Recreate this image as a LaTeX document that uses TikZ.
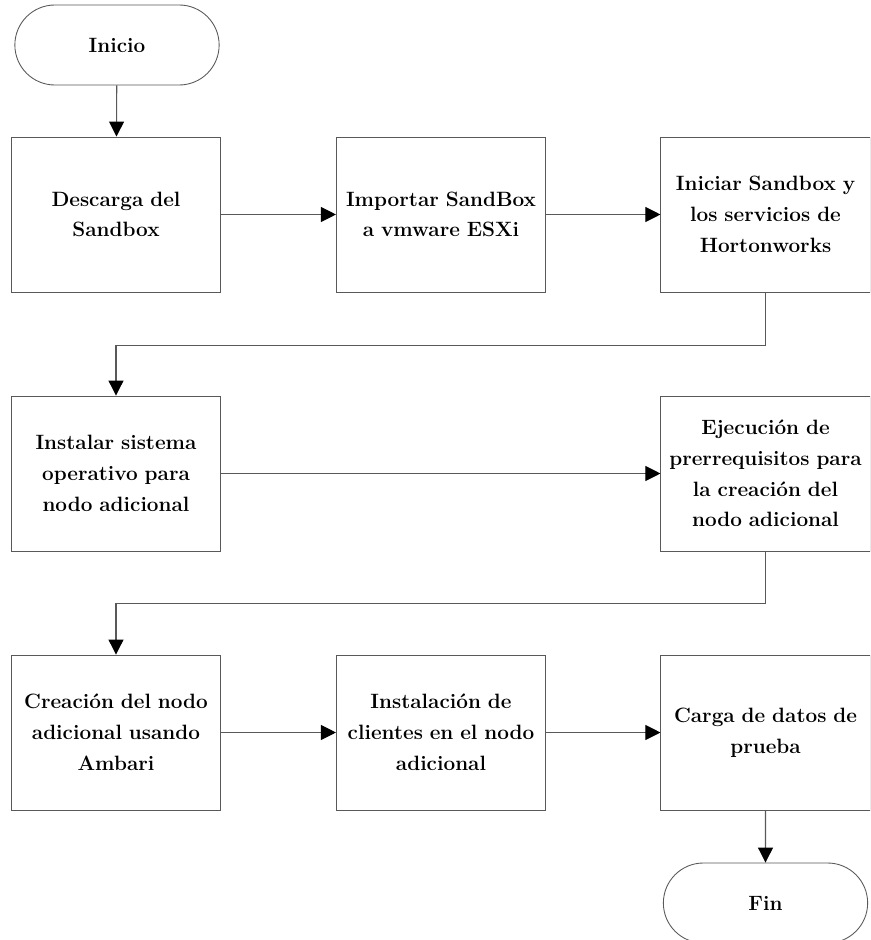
\documentclass[tikz,border=0pt]{standalone}
\usetikzlibrary{shapes.misc,arrows.meta}
\tikzset{
  paso/.style={draw=black!65,line width=0.5pt,minimum width=4.16cm,minimum height=3.1cm,text width=3.95cm,align=center,font=\fontsize{11.8}{17.5}\selectfont\bfseries},
  terminal/.style={draw=black!65,line width=0.5pt,rounded rectangle,minimum width=4.32cm,minimum height=1.6cm,font=\fontsize{11.8}{17.5}\selectfont\bfseries},
  flecha/.style={draw=black!65,line width=0.6pt,-{Triangle[length=0.3cm,width=0.3cm,color=black]}}
}
\begin{document}
\begin{tikzpicture}
    \clip (0,0) rectangle (17.4,-18.8);
    % inicio
    \node[terminal] (inicio) at (2.34,-0.9) {Inicio};
    % primera fila
    \node[paso] (descarga) at (2.32,-4.29) {Descarga del\\ Sandbox};
    \node[paso] (importar) at (8.82,-4.29) {Importar SandBox\\ a vmware ESXi};
    \node[paso] (iniciar) at (15.31,-4.29) {Iniciar Sandbox y\\ los servicios de\\ Hortonworks};
    % segunda fila
    \node[paso] (instalar) at (2.32,-9.47) {Instalar sistema\\ operativo para\\ nodo adicional};
    \node[paso] (ejecucion) at (15.31,-9.47) {Ejecución de\\ prerrequisitos para\\ la creación del\\ nodo adicional};
    % tercera fila
    \node[paso] (creacion) at (2.32,-14.65) {Creación del nodo\\ adicional usando\\ Ambari};
    \node[paso] (clientes) at (8.82,-14.65) {Instalación de\\ clientes en el nodo\\ adicional};
    \node[paso] (carga) at (15.31,-14.65) {Carga de datos de\\ prueba};
    % fin
    \node[terminal] (fin) at (15.31,-18.06) {Fin};
    % conexiones
    \draw[flecha] (inicio) -- (descarga);
    \draw[flecha] (descarga) -- (importar);
    \draw[flecha] (importar) -- (iniciar);
    \draw[flecha] (iniciar.south) -- ++(0,-1.06) -| (instalar.north);
    \draw[flecha] (instalar) -- (ejecucion);
    \draw[flecha] (ejecucion.south) -- ++(0,-1.04) -| (creacion.north);
    \draw[flecha] (creacion) -- (clientes);
    \draw[flecha] (clientes) -- (carga);
    \draw[flecha] (carga) -- (fin);
\end{tikzpicture}
\end{document}
